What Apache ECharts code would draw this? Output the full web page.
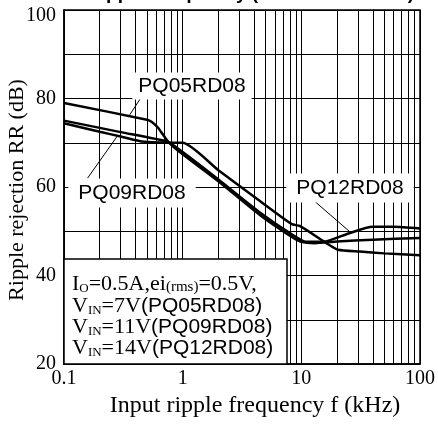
<!DOCTYPE html>
<html>
<head>
<meta charset="utf-8">
<script src="https://cdn.jsdelivr.net/npm/echarts@6/dist/echarts.min.js"></script>
<style>
  html, body { margin: 0; padding: 0; background: #fff; }
  #chart { width: 438px; height: 427px; }
</style>
</head>
<body>
<div id="chart"></div>
<script>
// readings (f in kHz, RR in dB)
const freq05 = [0.1, 0.5, 0.55, 0.62, 0.68, 0.77, 1, 2, 4.5, 8, 10, 13, 20, 40, 100];
const rr05   = [79.0, 75.2, 74.7, 73.4, 71.9, 70.0, 67.4, 61.3, 53.6, 49.0, 47.6, 47.3, 47.7, 48.1, 48.5];
const freq09 = [0.1, 0.2, 0.3, 0.43, 0.55, 0.75, 1, 2, 4, 8.3, 9.7, 16.3, 20.4, 31, 50, 100];
const rr09   = [74.4, 72.5, 71.4, 70.4, 70.1, 70.0, 70.0, 63.8, 57.8, 51.6, 51.2, 47.3, 45.8, 45.4, 45.0, 44.6];
const freq12 = [0.1, 0.3, 0.75, 1, 2, 4.5, 8, 11, 16, 25, 40, 60, 100];
const rr12   = [75.0, 72.4, 70.2, 67.9, 61.7, 54.2, 49.6, 47.6, 47.7, 49.5, 51.0, 51.0, 50.6];

const minorFreqs = [0.2, 0.3, 0.4, 0.5, 0.6, 0.7, 0.8, 0.9,
                    2, 3, 4, 5, 6, 7, 8, 9,
                    20, 30, 40, 50, 60, 70, 80, 90];
const yTicks = [20, 40, 60, 80, 100];
const yMin = 20, yMax = 100;

// leader lines from the part-number labels to their curves
const leaders = [
  [[0.461, 80.8], [0.358, 76.3]],
  [[0.278, 71.3], [0.158, 62.0]],
  [[11.8, 57.7], [25.6, 49.9]]
];

const serif = 'Liberation Serif';
const sans = 'Liberation Sans';

function pairs(f, v) {
  return f.map((x, i) => [x, v[i]]);
}

function curve(name, f, v) {
  return {
    name: name,
    type: 'line',
    data: pairs(f, v),
    showSymbol: false,
    smooth: 0.2,
    lineStyle: { color: '#000', width: 2.5 },
    z: 5,
    silent: true
  };
}

let chart = echarts.init(document.getElementById('chart'));

let options = {
  animation: false,
  backgroundColor: '#fff',
  grid: {
    left: 64, top: 10, width: 356, height: 354,
    show: true, borderColor: '#000', borderWidth: 1.5
  },
  xAxis: {
    type: 'log',
    logBase: 10,
    min: 0.1,
    max: 100,
    axisLine: { show: true, lineStyle: { color: '#000', width: 1.5 } },
    axisTick: { show: false },
    axisLabel: {
      color: '#000', fontFamily: serif, fontSize: 20, margin: 5,
      formatter: v => String(+(+v).toPrecision(3))
    },
    splitLine: { show: true, lineStyle: { color: '#000', width: 1 } }
  },
  yAxis: {
    type: 'value',
    min: yMin,
    max: yMax,
    interval: 10,
    axisLine: { show: true, lineStyle: { color: '#000', width: 1.5 } },
    axisTick: { show: false },
    axisLabel: {
      color: '#000', fontFamily: serif, fontSize: 20, margin: 8,
      formatter: v => {
        if (yTicks.indexOf(v) < 0) return '';
        return v === yMax ? '{top|' + v + '}' : String(v);
      },
      rich: {
        top: { fontFamily: serif, fontSize: 20, color: '#000', padding: [12, 0, 0, 0] }
      }
    },
    splitLine: { show: true, lineStyle: { color: '#000', width: 1 } }
  },
  series: [
    {
      name: 'minor grid',
      type: 'lines',
      coordinateSystem: 'cartesian2d',
      z: 1,
      silent: true,
      lineStyle: { color: '#000', width: 1, opacity: 1, curveness: 0 },
      data: minorFreqs.map(f => ({ coords: [[f, yMin], [f, yMax]] }))
    },
    curve('PQ05RD08', freq05, rr05),
    curve('PQ09RD08', freq09, rr09),
    curve('PQ12RD08', freq12, rr12),
    {
      name: 'leaders',
      type: 'lines',
      coordinateSystem: 'cartesian2d',
      z: 6,
      silent: true,
      lineStyle: { color: '#000', width: 1, opacity: 1, curveness: 0 },
      data: leaders.map(l => ({ coords: [l[0], l[1]] }))
    }
  ],
  graphic: [
    // clipped title above the frame
    {
      type: 'text', x: 414, y: 3, z: 50,
      style: {
        text: 'Ripple Frequency (TYPICAL VALUE)',
        fill: '#000', font: 'bold 19px ' + sans,
        align: 'right', verticalAlign: 'bottom'
      }
    },
    {
      type: 'text', x: 17, y: 190, rotation: Math.PI / 2, z: 50,
      style: {
        text: 'Ripple rejection RR (dB)',
        fill: '#000', font: '22px ' + serif,
        align: 'center', verticalAlign: 'middle'
      }
    },
    {
      type: 'text', x: 255, y: 406, z: 50,
      style: {
        text: 'Input ripple frequency f (kHz)',
        fill: '#000', font: '24px ' + serif,
        align: 'center', verticalAlign: 'middle'
      }
    },
    // part-number labels
    {
      type: 'text', x: 192, y: 86, z: 50,
      style: {
        text: 'PQ05RD08', fill: '#000', font: '21px ' + sans,
        align: 'center', verticalAlign: 'middle',
        backgroundColor: '#fff', padding: [3, 6]
      }
    },
    {
      type: 'text', x: 132, y: 193, z: 50,
      style: {
        text: 'PQ09RD08', fill: '#000', font: '21px ' + sans,
        align: 'center', verticalAlign: 'middle',
        backgroundColor: '#fff', padding: [4, 10]
      }
    },
    {
      type: 'text', x: 350, y: 188, z: 50,
      style: {
        text: 'PQ12RD08', fill: '#000', font: '21px ' + sans,
        align: 'center', verticalAlign: 'middle',
        backgroundColor: '#fff', padding: [4, 10]
      }
    },
    // conditions box
    {
      type: 'rect', z: 50,
      shape: { x: 64, y: 259, width: 223, height: 105 },
      style: { fill: '#fff', stroke: '#000', lineWidth: 1.5 }
    },
    {
      type: 'text', x: 72, y: 284, z: 51,
      style: {
        text: '{s|I}{sub|O}{s|=0.5A,ei}{m|(rms)}{s|=0.5V,}',
        verticalAlign: 'middle',
        rich: {
          s: { fontFamily: serif, fontSize: 22, fill: '#000' },
          sub: { fontFamily: serif, fontSize: 13, fill: '#000', verticalAlign: 'bottom' },
          m: { fontFamily: serif, fontSize: 15, fill: '#000', verticalAlign: 'bottom' }
        }
      }
    },
    ...[['7V', '(PQ05RD08)', 306], ['11V', '(PQ09RD08)', 327], ['14V', '(PQ12RD08)', 348]].map(r => ({
      type: 'text', x: 72, y: r[2], z: 51,
      style: {
        text: '{s|V}{sub|IN}{s|=' + r[0] + '}{p|' + r[1] + '}',
        verticalAlign: 'middle',
        rich: {
          s: { fontFamily: serif, fontSize: 22, fill: '#000' },
          sub: { fontFamily: serif, fontSize: 13, fill: '#000', verticalAlign: 'bottom' },
          p: { fontFamily: sans, fontSize: 21, fill: '#000' }
        }
      }
    }))
  ]
};

chart.setOption(options);
</script>
</body>
</html>
